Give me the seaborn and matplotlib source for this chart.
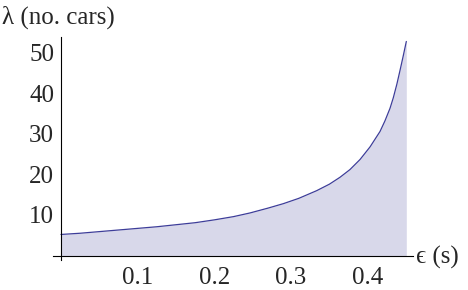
import numpy as np
import pandas as pd
import seaborn as sns
import matplotlib.pyplot as plt
from matplotlib.ticker import MultipleLocator, FixedLocator

# values
eps = [0.0, 0.025, 0.05, 0.075, 0.1, 0.125, 0.15, 0.175, 0.2, 0.225,
       0.2464, 0.27, 0.29, 0.31, 0.3334, 0.35, 0.3638, 0.3768, 0.39, 0.403,
       0.416, 0.4224, 0.429, 0.4333, 0.438, 0.442, 0.446, 0.4503]
lam = [5.2, 5.5, 5.9, 6.3, 6.7, 7.1, 7.6, 8.1, 8.8, 9.6,
       10.5, 11.7, 12.8, 14.1, 16.0, 17.6, 19.3, 21.2, 23.7, 26.8,
       30.6, 33.2, 36.3, 38.9, 42.3, 45.6, 49.0, 52.8]
x_ticks = [0.1, 0.2, 0.3, 0.4]
y_ticks = [10, 20, 30, 40, 50]

df = pd.DataFrame({'eps': eps, 'lam': lam})

sns.set_style('white')
plt.rcParams['font.family'] = ['Liberation Serif', 'DejaVu Serif']

line_col = '#3d3d99'
fig = plt.figure(figsize=(4.68, 2.9), dpi=100)
ax = fig.add_axes([53 / 468, 30 / 290, 360 / 468, 223 / 290])

sns.lineplot(data=df, x='eps', y='lam', ax=ax, color=line_col, linewidth=0.9)
ax.fill_between(df['eps'], 0, df['lam'], color=line_col, alpha=0.2, linewidth=0)

ax.set_xlim(-0.0104, 0.459)
ax.set_ylim(-1.1, 53.9)

for s in ['top', 'right']:
    ax.spines[s].set_visible(False)
ax.spines['left'].set_position(('data', 0))
ax.spines['bottom'].set_position(('data', 0))
for s in ['left', 'bottom']:
    ax.spines[s].set_color('black')
    ax.spines[s].set_linewidth(0.8)

ax.xaxis.set_major_locator(FixedLocator(x_ticks))
ax.yaxis.set_major_locator(FixedLocator(y_ticks))
ax.xaxis.set_minor_locator(MultipleLocator(0.02))
ax.yaxis.set_minor_locator(MultipleLocator(2))
ax.tick_params(which='major', direction='in', length=5, width=0.8, labelsize=18, color='black')
ax.tick_params(which='minor', direction='in', length=3, width=0.6, color='black')
ax.tick_params(axis='x', pad=8)
ax.tick_params(axis='y', pad=5)
ax.set_xlabel('')
ax.set_ylabel('')

fig.text(2 / 468, 1 - 17 / 290, 'λ (no. cars)', fontsize=18, ha='left', va='center')
fig.text(416 / 468, 1 - 257 / 290, 'ϵ (s)', fontsize=18, ha='left', va='center')

fig.savefig('out.png', dpi=100)
